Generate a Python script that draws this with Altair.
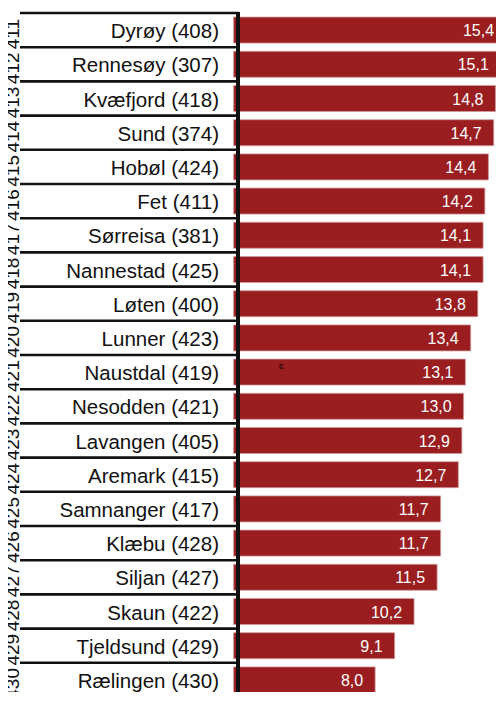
import altair as alt
import pandas as pd

names = ["Dyrøy (408)", "Rennesøy (307)", "Kvæfjord (418)", "Sund (374)", "Hobøl (424)",
         "Fet (411)", "Sørreisa (381)", "Nannestad (425)", "Løten (400)", "Lunner (423)",
         "Naustdal (419)", "Nesodden (421)", "Lavangen (405)", "Aremark (415)", "Samnanger (417)",
         "Klæbu (428)", "Siljan (427)", "Skaun (422)", "Tjeldsund (429)", "Rælingen (430)"]
ranks = ["411", "412", "413", "414", "415", "416", "417", "418", "419", "420",
         "421", "422", "423", "424", "425", "426", "427", "428", "429", "430"]
values = [15.4, 15.1, 14.8, 14.7, 14.4, 14.2, 14.1, 14.1, 13.8, 13.4,
          13.1, 13.0, 12.9, 12.7, 11.7, 11.7, 11.5, 10.2, 9.1, 8.0]
labels = [f"{v:.1f}".replace(".", ",") for v in values]

# stray mark seen inside one bar of the reference
stray_text = ["c"]
stray_row = ["Naustdal (419)"]
stray_x = [2.7]

df = pd.DataFrame({"name": names, "rank": ranks, "value": values, "label": labels})
stray = pd.DataFrame({"name": stray_row, "t": stray_text, "x": stray_x})

FONT = "Liberation Sans"
ROW = 34.2
N = len(names)
W = 488
H = 679

xscale = alt.Scale(domain=[-12.75, 14.83], nice=False, zero=False)
yscale = alt.Scale(paddingInner=0.24, paddingOuter=0.12, range=[0, ROW * N])
Y = alt.Y("name:N", sort=None, scale=yscale, axis=None)

base = alt.Chart(df)

bars = base.mark_bar(color="#9a1d20", stroke="#cf9a9a", strokeWidth=0.8, clip=True).encode(
    x=alt.X("value:Q", scale=xscale, axis=None),
    x2=alt.value(231),
    y=Y,
)

bar_labels = base.mark_text(align="right", baseline="middle", dx=-12, dy=1,
                            font=FONT, fontSize=16, color="white").encode(
    x=alt.X("value:Q", scale=xscale, axis=None),
    y=Y,
    text="label:N",
)

names_txt = base.mark_text(align="right", baseline="middle", dy=2,
                           font=FONT, fontSize=20.5, color="#111111").encode(
    x=alt.value(211),
    y=Y,
    text="name:N",
)

rank_txt = base.mark_text(align="center", baseline="alphabetic", angle=270, yOffset=4,
                          font=FONT, fontSize=19, color="#111111").encode(
    x=alt.value(11),
    y=Y,
    text="rank:N",
)

row_lines = base.mark_rule(color="#111111", strokeWidth=2.6, yOffset=-ROW / 2).encode(
    x=alt.value(12),
    x2=alt.value(231),
    y=Y,
)

vline = base.mark_rule(color="#111111", strokeWidth=2.8).encode(
    x=alt.value(230),
    y=alt.value(-1),
    y2=alt.value(720),
)

stray_txt = alt.Chart(stray).mark_text(align="center", baseline="middle", yOffset=-6.5,
                                       font=FONT, fontSize=9, fontWeight="bold",
                                       color="#2a0505").encode(
    x=alt.X("x:Q", scale=xscale, axis=None),
    y=Y,
    text="t:N",
)

chart = alt.layer(bars, bar_labels, stray_txt, names_txt, rank_txt, row_lines, vline).properties(
    width=W,
    height=H,
    padding={"top": 5, "left": 0, "right": 0, "bottom": 0},
    autosize=alt.AutoSizeParams(type="none"),
    background="white",
).configure_view(stroke=None)

chart.save("out.html", embed_options={"renderer": "svg", "actions": False})
